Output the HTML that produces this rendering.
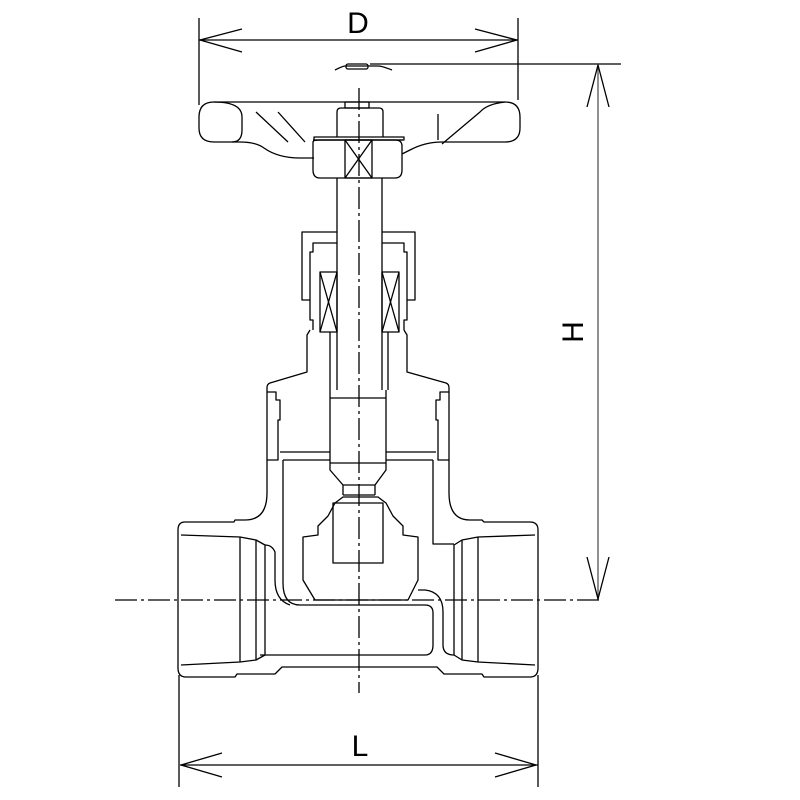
<!DOCTYPE html>
<html><head><meta charset="utf-8"><style>
html,body{margin:0;padding:0;background:#fff;}
svg{display:block;}
text{font-family:"Liberation Sans",sans-serif;fill:#000;}
</style></head><body>
<svg width="800" height="800" viewBox="0 0 800 800" xmlns="http://www.w3.org/2000/svg">
<g fill="none" stroke="#000" stroke-width="1.3" stroke-linejoin="round">
<!-- Dimension D -->
<line x1="199" y1="18" x2="199" y2="105"/>
<line x1="518" y1="18" x2="518" y2="100"/>
<line x1="199" y1="40" x2="518" y2="40"/>
<polyline points="242,29 200,40 242,52"/>
<polyline points="475,29 517,40 475,52"/>
<!-- Dimension H -->
<line x1="370" y1="64" x2="621" y2="64"/>
<line x1="598" y1="64" x2="598" y2="600" stroke="#555"/>
<polyline points="587,107 598,65 609,107"/>
<polyline points="587,557 598,599 609,557"/>
<!-- Dimension L -->
<line x1="179" y1="675" x2="179" y2="787"/>
<line x1="538" y1="675" x2="538" y2="787"/>
<line x1="180" y1="765" x2="538" y2="765"/>
<polyline points="222,753 181,765 222,777"/>
<polyline points="495,753 536,765 495,777"/>
<!-- Center lines -->
<line x1="115" y1="600" x2="600" y2="600" stroke-dasharray="22,4,3,4"/>
<line x1="359" y1="88" x2="359" y2="693" stroke-dasharray="22,4,3,4"/>
<!-- small top indicator -->
<path d="M335,70 Q343,66 345,66 L378,66 Q382,66 392,70"/>
<rect x="346" y="64" width="22" height="5" rx="2"/>
<!-- Handwheel rim -->
<path d="M214,102 L505,102 Q520,102 520,117 L520,128 Q520,142 505,142 L442,142 Q425,142 410,150 L402,154"/>
<path d="M214,102 Q199,102 199,117 L199,128 Q199,142 214,142 L240,142 Q256,142 264,148 Q278,158 300,158 L314,158"/>
<path d="M214,102 Q242,102 242,117 L242,130 Q242,142 232,142"/>
<path d="M505,102 Q487,104 480,112 L442,144"/>
<line x1="256" y1="112" x2="288" y2="142"/>
<line x1="278" y1="112" x2="305" y2="142"/>
<line x1="438" y1="114" x2="438" y2="140"/>
<!-- hub -->
<path d="M313,142 Q313,140 320,140 L395,140 Q402,140 402,146 L402,170 Q402,178 395,178 L320,178 Q313,178 313,170 Z"/>
<line x1="313" y1="140" x2="403" y2="140"/>
<rect x="314" y="137" width="90" height="3"/>
<!-- nut -->
<path d="M337,137 L337,112 Q337,108 341,108 L379,108 Q383,108 383,112 L383,137"/>
<rect x="345" y="102" width="24" height="6"/>
<rect x="345" y="140" width="27" height="38"/>
<line x1="345" y1="140" x2="372" y2="178"/>
<line x1="372" y1="140" x2="345" y2="178"/>
<!-- stem -->
<line x1="337" y1="178" x2="337" y2="390"/>
<line x1="382" y1="178" x2="382" y2="390"/>
<!-- gland box -->
<path d="M337,232 L302,232 L302,300 L310,300"/>
<path d="M382,232 L415,232 L415,300 L407,300"/>
<path d="M337,243 L313,243 L313,252 L310,252 L310,320 L313,320 L313,330"/>
<path d="M382,243 L404,243 L404,252 L407,252 L407,320 L404,320 L404,330"/>
<rect x="320" y="272" width="17" height="60"/>
<line x1="320" y1="272" x2="337" y2="332"/><line x1="337" y1="272" x2="320" y2="332"/>
<rect x="382" y="272" width="17" height="60"/>
<line x1="382" y1="272" x2="399" y2="332"/><line x1="399" y1="272" x2="382" y2="332"/>
<line x1="330" y1="332" x2="330" y2="390"/>
<line x1="388" y1="332" x2="388" y2="390"/>
<!-- bonnet -->
<path d="M310,330 L307,335 L307,372 L270,383 Q267,384 267,388 L267,460"/>
<path d="M404,330 L407,335 L407,372 L446,383 Q449,384 449,388 L449,460"/>
<path d="M267,460 L278,460 L278,420 L280,420 L280,400 L276,400 L276,392 L267,392"/>
<path d="M449,460 L438,460 L438,420 L436,420 L436,400 L440,400 L440,392 L449,392"/>
<line x1="280" y1="452" x2="330" y2="452"/>
<line x1="386" y1="452" x2="436" y2="452"/>
<line x1="283" y1="460" x2="330" y2="460"/>
<line x1="386" y1="460" x2="433" y2="460"/>
<!-- stem lower -->
<path d="M330,390 L330,470 L343,485 L343,495"/>
<path d="M386,390 L386,470 L375,485 L375,495"/>
<line x1="330" y1="398" x2="386" y2="398"/>
<line x1="330" y1="463" x2="386" y2="463"/>
<line x1="343" y1="485" x2="375" y2="485"/>
<line x1="343" y1="495" x2="375" y2="495"/>
<!-- disc -->
<path d="M343,497 L335,503 L328,516 L318,526 L318,535 L303,537 L303,580 L315,600 L408,600 L418,580 L418,537 L403,535 L403,526 L393,516 L386,503 L378,497 Z"/>
<rect x="333" y="503" width="50" height="60"/>
<!-- body -->
<path d="M267,460 L267,493 Q267,520 245,520 L235,520 L234,522 L185,522 Q178,522 178,530 L178,668 Q178,677 186,677 L235,677 L237,674 L275,674 L282,667 L437,667 L444,674 L482,674 L484,677 L530,677 Q538,677 538,668 L538,530 Q538,522 530,522 L484,522 L482,520 L470,520 Q449,520 449,493 L449,460"/>
<!-- ports -->
<path d="M181,535 L240,537 L256,540 L265,545 L265,655 L256,660 L240,662 L181,665"/>
<line x1="240" y1="537" x2="240" y2="662"/>
<line x1="256" y1="540" x2="256" y2="660"/>
<path d="M535,535 L478,537 L462,540 L454,545 L454,655 L462,660 L478,662 L535,665"/>
<line x1="478" y1="537" x2="478" y2="662"/>
<line x1="462" y1="540" x2="462" y2="660"/>
<!-- passage -->
<path d="M283,460 L283,583 Q283,605 300,605 L425,605 Q433,605 433,613 L433,645 Q433,655 425,655 L260,655"/>
<path d="M265,545 Q272,545 275,552 L275,580 Q275,600 290,605"/>
<path d="M433,460 L433,544 L454,544"/>
<path d="M418,590 L425,590 Q443,592 443,612 L443,645 Q443,655 454,655"/>
</g>
<text x="358" y="33" font-size="30" text-anchor="middle">D</text>
<text x="360" y="756" font-size="30" text-anchor="middle">L</text>
<text x="0" y="0" font-size="30" text-anchor="middle" transform="translate(583,332) rotate(-90)">H</text>
</svg>
</body></html>
